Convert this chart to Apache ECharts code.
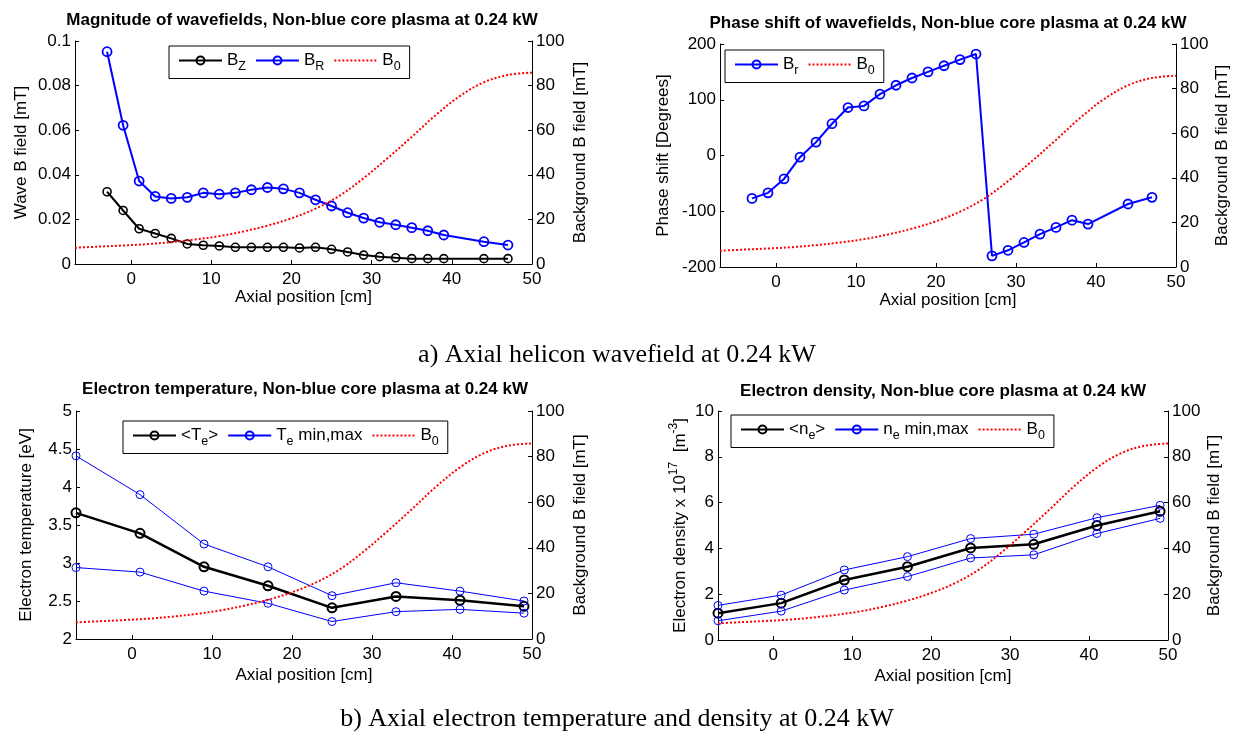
<!DOCTYPE html>
<html><head><meta charset="utf-8">
<script src="https://cdn.jsdelivr.net/npm/echarts@6/dist/echarts.min.js"></script>
<style>html,body{margin:0;padding:0;background:#fff;} #c{width:1234px;height:738px;}</style>
</head><body><div id="c"></div>
<script>
// ---- data ----
const zWave = [-3,-1,1,3,5,7,9,11,13,15,17,19,21,23,25,27,29,31,33,35,37,39,44,47];
const bzMag = [0.0324,0.0240,0.0158,0.0137,0.0115,0.0090,0.0084,0.0081,0.0075,0.0075,0.0075,0.0075,0.0072,0.0075,0.0066,0.0054,0.0040,0.0033,0.0028,0.0024,0.0024,0.0024,0.0024,0.0024];
const brMag = [0.0952,0.0622,0.0372,0.0303,0.0294,0.0299,0.0319,0.0313,0.0319,0.0333,0.0343,0.0337,0.0319,0.0288,0.0260,0.0230,0.0206,0.0187,0.0176,0.0163,0.0149,0.0130,0.0100,0.0085];
const brPhase = [-77,-67,-42,-3,24,57,86,89,110,126,139,150,161,172,182,-180,-170,-156,-141,-129,-116,-123,-87,-75];
const zB0 = [-7,-4,-1,2,5,8,11,14,17,20,23,26,29,32,35,38,41,44,47,50];
const b0 = [7.3,7.8,8.3,8.9,9.8,11.0,12.5,14.6,17.2,20.5,24.8,30.6,38.5,47.5,57.0,66.8,75.3,81.5,84.8,85.8];
const zProbe = [-7,1,9,17,25,33,41,49];
const teMean = [3.66,3.39,2.95,2.70,2.41,2.56,2.51,2.43];
const teMax = [4.41,3.90,3.25,2.95,2.57,2.74,2.63,2.50];
const teMin = [2.94,2.88,2.63,2.47,2.23,2.36,2.39,2.34];
const neMean = [1.17,1.61,2.62,3.20,4.02,4.18,5.00,5.62];
const neMax = [1.51,1.96,3.06,3.64,4.43,4.62,5.34,5.88];
const neMin = [0.84,1.26,2.18,2.77,3.58,3.72,4.65,5.31];
const xTicks = [0,10,20,30,40,50];

// ---- helpers ----
const FONT = "'Liberation Sans', Arial, sans-serif";
const SERIF = "'Liberation Serif', 'Times New Roman', serif";
const TICK = 17, NAME = 17;
function pts(xs, ys){ return xs.map((x,i)=>[x, ys[i]]); }
function xAx(g, nameGap){
  return {type:'value', gridIndex:g, min:-7, max:50, name:'Axial position [cm]', nameLocation:'middle', nameGap,
    nameTextStyle:{fontFamily:FONT,fontSize:NAME,color:'#000'},
    axisLine:{onZero:false, lineStyle:{color:'#000',width:1}},
    axisTick:{inside:true, length:4, customValues:xTicks, lineStyle:{color:'#000'}},
    axisLabel:{customValues:xTicks, margin:7, fontFamily:FONT, fontSize:TICK, color:'#000'},
    splitLine:{show:false}};
}
function yAx(g, pos, min, max, interval, name, nameGap, rich){
  const ax = {type:'value', gridIndex:g, position:pos, min, max, interval, name, nameLocation:'middle', nameGap, nameRotate:90,
    nameTextStyle:{fontFamily:FONT,fontSize:NAME,color:'#000'},
    axisLine:{show:true, onZero:false, lineStyle:{color:'#000',width:1}},
    axisTick:{show:true, inside:true, length:4, lineStyle:{color:'#000'}},
    axisLabel:{margin:4, fontFamily:FONT, fontSize:TICK, color:'#000'},
    splitLine:{show:false}};
  if (rich) ax.nameTextStyle.rich = rich;
  return ax;
}
function mSeries(name, g, yi, xs, ys, color, lw, size, bw){
  return {type:'line', name, xAxisIndex:g, yAxisIndex:yi, data:pts(xs,ys), symbol:'circle', symbolSize:size, showSymbol:true,
    lineStyle:{color, width:lw}, itemStyle:{color:'rgba(0,0,0,0)', borderColor:color, borderWidth:bw},
    emphasis:{disabled:true}, silent:true, animation:false, z:3};
}
function b0Series(g, yi){
  return {type:'line', name:'B0', xAxisIndex:g, yAxisIndex:yi, data:pts(zB0,b0), smooth:0.35, symbol:'none',
    lineStyle:{color:'#ff0000', width:2, type:[2,2]}, itemStyle:{color:'rgba(0,0,0,0)'},
    emphasis:{disabled:true}, silent:true, animation:false, z:4};
}
const lrich = { a:{fontFamily:FONT,fontSize:17,color:'#000',lineHeight:26},
                s:{fontFamily:FONT,fontSize:12.5,color:'#000',lineHeight:12,verticalAlign:'bottom'} };
const labels = { Bz:'{a|B}{s|Z}', BR:'{a|B}{s|R}', B0:'{a|B}{s|0}', Br:'{a|B}{s|r}',
  Te:'{a|<T}{s|e}{a|>}', Temm:'{a|T}{s|e}{a| min,max}', ne:'{a|<n}{s|e}{a|>}', nemm:'{a|n}{s|e}{a| min,max}' };
function legend(data, left, top){
  return {data, left, top, orient:'horizontal', itemWidth:43, itemHeight:10, itemGap:9, padding:[6,9,5,9],
    borderColor:'#000', borderWidth:1, borderRadius:0, backgroundColor:'#fff', selectedMode:false,
    formatter: n => labels[n], textStyle:{rich:lrich, fontFamily:FONT, fontSize:17, color:'#000'}};
}
function ttl(text, left, top){
  return {text, left, top, textAlign:'center', padding:0,
    textStyle:{fontFamily:FONT, fontSize:17, fontWeight:'bold', color:'#000'}};
}
function cap(text, left, top){
  return {text, left, top, textAlign:'center', padding:0,
    textStyle:{fontFamily:SERIF, fontSize:26, fontWeight:'normal', color:'#000'}};
}
const nrich = { a:{fontFamily:FONT,fontSize:NAME,color:'#000',lineHeight:24},
                sup:{fontFamily:FONT,fontSize:12,color:'#000',lineHeight:12,verticalAlign:'top'} };

const option = {
  backgroundColor:'#fff',
  animation:false,
  title:[
    ttl('Magnitude of wavefields, Non-blue core plasma at 0.24 kW', 302, 12),
    ttl('Phase shift of wavefields, Non-blue core plasma at 0.24 kW', 948, 15),
    ttl('Electron temperature, Non-blue core plasma at 0.24 kW', 305, 381),
    ttl('Electron density, Non-blue core plasma at 0.24 kW', 943, 383),
    cap('a) Axial helicon wavefield at 0.24 kW', 617, 342),
    cap('b) Axial electron temperature and density at 0.24 kW', 617, 706)
  ],
  grid:[
    {left:75, right:702, top:41, bottom:474},
    {left:720, right:58, top:44, bottom:471},
    {left:76, right:702, top:411, bottom:99},
    {left:718, right:66, top:411, bottom:98}
  ],
  xAxis:[ xAx(0,25), xAx(1,25), xAx(2,28), xAx(3,28) ],
  yAxis:[
    yAx(0,'left',0,0.1,0.02,'Wave B field [mT]',45),
    yAx(0,'right',0,100,20,'Background B field [mT]',40),
    yAx(1,'left',-200,200,100,'Phase shift [Degrees]',48),
    yAx(1,'right',0,100,20,'Background B field [mT]',38),
    yAx(2,'left',2,5,0.5,'Electron temperature [eV]',41),
    yAx(2,'right',0,100,20,'Background B field [mT]',40),
    yAx(3,'left',0,10,2,'{a|Electron density x 10}{sup|17}{a|  [m}{sup|-3}{a|]}',26,nrich),
    yAx(3,'right',0,100,20,'Background B field [mT]',38)
  ],
  legend:[
    legend(['Bz','BR','B0'], 169, 46),
    legend(['Br','B0'], 725, 50),
    legend(['Te','Temm','B0'], 123, 421),
    legend(['ne','nemm','B0'], 731, 415)
  ],
  series:[
    mSeries('Bz',0,0,zWave,bzMag,'#000000',2,8,1.6),
    mSeries('BR',0,0,zWave,brMag,'#0000ff',2,9,1.8),
    b0Series(0,1),
    mSeries('Br',1,2,zWave,brPhase,'#0000ff',2,9,1.8),
    b0Series(1,3),
    mSeries('Te',2,4,zProbe,teMean,'#000000',2.5,9,2),
    mSeries('Temm',2,4,zProbe,teMax,'#0000ff',1,8,1),
    mSeries('Temm',2,4,zProbe,teMin,'#0000ff',1,8,1),
    b0Series(2,5),
    mSeries('ne',3,6,zProbe,neMean,'#000000',2.5,9,2),
    mSeries('nemm',3,6,zProbe,neMax,'#0000ff',1,8,1),
    mSeries('nemm',3,6,zProbe,neMin,'#0000ff',1,8,1),
    b0Series(3,7)
  ]
};
const chart = echarts.init(document.getElementById('c'), null, {renderer:'canvas'});
chart.setOption(option);
</script></body></html>
